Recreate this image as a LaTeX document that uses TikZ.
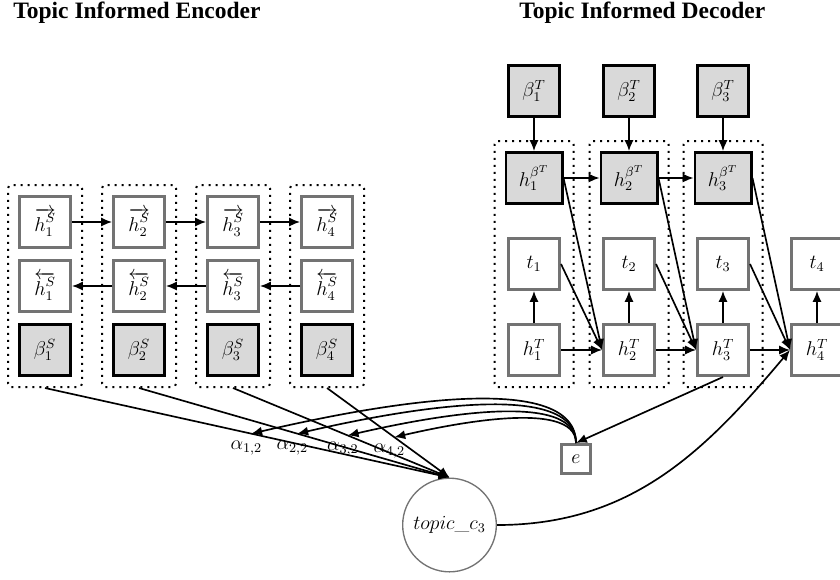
\documentclass[tikz,border=0pt]{standalone}
\usepackage{fontspec}
\newfontfamily\titlefont{Liberation Serif}
\usetikzlibrary{arrows.meta,fit}
\begin{document}
\begin{tikzpicture}[x=0.6pt,y=-0.6pt,
  every node/.style={font=\fontsize{12}{14}\selectfont},
  box/.style={draw=black!55, line width=1.6pt, fill=white, minimum size=30.8pt, inner sep=1pt},
  gbox/.style={draw=black, line width=1.6pt, fill=black!15, minimum size=30.8pt, inner sep=1pt},
  grp/.style={draw, dash pattern=on 1.2pt off 3pt, line width=1.2pt, rounded corners=2pt, inner sep=6pt},
  conn/.style={line width=1pt, -{Latex[length=6.5pt,width=5.5pt]}},
  ttl/.style={font=\titlefont\bfseries\fontsize{14.1}{17}\selectfont, anchor=base west, inner sep=0pt},
  lab/.style={inner sep=0pt}
]
\useasboundingbox (0,0) rectangle (840,579);

\node[ttl] (t-enc) at (13,18.5) {Topic Informed Encoder};
\node[ttl] (t-dec) at (519,18.5) {Topic Informed Decoder};

% encoder
\foreach \i/\x in {1/45,2/139,3/233,4/327} {
  \node[box] (hr\i) at (\x,222) {$\overrightarrow{h_{\i}^S}$};
  \node[box] (hl\i) at (\x,286) {$\overleftarrow{h_{\i}^S}$};
  \node[gbox] (bS\i) at (\x,350) {$\beta_{\i}^S$};
  \node[grp, fit=(hr\i)(bS\i)] (f\i) {};
}
\foreach \a/\b in {1/2,2/3,3/4} {
  \draw[conn] (hr\a.east) -- (hr\b.west);
  \draw[conn] (hl\b.west) -- (hl\a.east);
}

% decoder
\foreach \i/\x in {1/534,2/629,3/723} {
  \node[gbox] (bT\i) at (\x,91) {$\beta_{\i}^T$};
  \node[gbox, minimum width=33.8pt] (hb\i) at (\x,178) {$h_{\i}^{\beta^T}$};
}
\foreach \i/\x in {1/534,2/629,3/723,4/817} {
  \node[box] (t\i) at (\x,264) {$t_{\i}$};
  \node[box] (hT\i) at (\x,350) {$h_{\i}^T$};
  \draw[conn] (hT\i.north) -- (t\i.south);
}
\foreach \i in {1,2,3} {
  \node[grp, fit=(hb\i)(hT\i)] (g\i) {};
  \draw[conn] (bT\i.south) -- (hb\i.north);
}
\foreach \a/\b in {1/2,2/3} {
  \draw[conn] (hb\a.east) -- (hb\b.west);
}
\foreach \a/\b in {1/2,2/3,3/4} {
  \draw[conn] (hT\a.east) -- (hT\b.west);
  \draw[conn] (t\a.east) -- (hT\b.west);
  \draw[conn] (hb\a.east) -- (hT\b.west);
}

\node[box, minimum size=17.6pt, inner sep=1pt] (e) at (576,459) {$e$};
\node[circle, draw=black!55, line width=0.8pt, fill=white, minimum size=56.2pt, inner sep=1pt] (c) at (449.5,525) {$topic\_c_3$};

\draw[conn] (hT3.south) -- (e.north);
\draw[conn] (c.east) to[out=0,in=230] (hT4.west);

\foreach \i/\p in {1/0.51,2/0.51,3/0.53,4/0.55} {
  \draw[conn] (f\i.south) -- coordinate[pos=\p] (a\i) (c.north);
  \node[lab] (l\i) at ([xshift=-3pt,yshift=-8.4pt]a\i) {$\alpha_{\i,2}$};
  \draw[conn] (e.north) to[out=90,in=13,looseness=0.65] (a\i);
}
\end{tikzpicture}
\end{document}
